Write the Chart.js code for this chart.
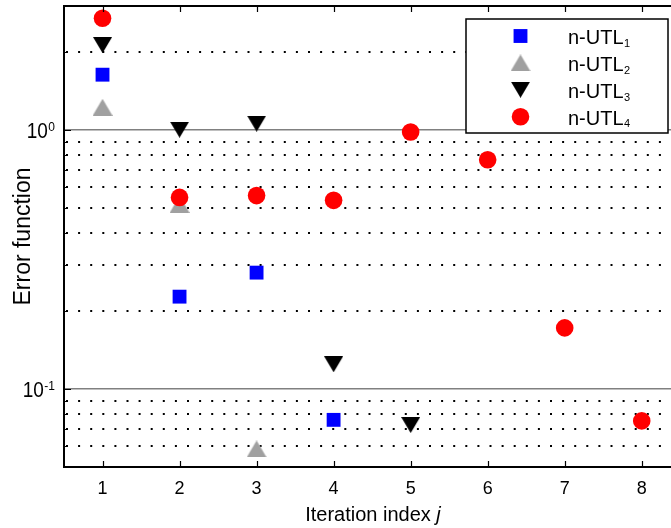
<!DOCTYPE html>
<html>
<head>
<meta charset="utf-8">
<script src="https://cdn.jsdelivr.net/npm/chart.js@4.4.0/dist/chart.umd.min.js"></script>
<style>
html, body { margin: 0; padding: 0; background: #fff; }
</style>
</head>
<body>
<canvas id="errorchart" width="671" height="528"></canvas>
<script>
// values
const iterations = [1, 2, 3, 4, 5, 6, 7, 8];
const xTicks = [1, 2, 3, 4, 5, 6, 7, 8];
const utl1 = [1.63, 0.227, 0.281, 0.076];
const utl2 = [1.22, 0.515, 0.0587];
const utl3 = [2.12, 1.0, 1.055, 0.1245, 0.0726];
const utl4 = [2.69, 0.548, 0.557, 0.534, 0.98, 0.766, 0.172, 0.0753];
const seriesNames = ['n-UTL', 'n-UTL', 'n-UTL', 'n-UTL'];
const seriesSubs = ['1', '2', '3', '4'];
const yGridTicks = [0.05, 0.06, 0.07, 0.08, 0.09, 0.1, 0.2, 0.3, 0.4, 0.5, 0.6, 0.7, 0.8, 0.9, 1, 2, 3];
const yMajor = [0.1, 1];
const yMajorExp = ['-1', '0'];

const FONT = '"Liberation Sans", Arial, Helvetica, sans-serif';
Chart.defaults.font.family = FONT;
Chart.defaults.color = '#000';

function makeTriangle(color, down, w, h) {
    const c = document.createElement('canvas');
    c.width = w;
    c.height = h;
    const g = c.getContext('2d');
    g.fillStyle = color;
    g.beginPath();
    if (down) {
        g.moveTo(0, 0); g.lineTo(w, 0); g.lineTo(w / 2, h);
    } else {
        g.moveTo(w / 2, 0); g.lineTo(w, h); g.lineTo(0, h);
    }
    g.closePath();
    g.fill();
    return c;
}
const triUp = makeTriangle('#a0a0a0', false, 20, 17);
const triDown = makeTriangle('#000000', true, 19, 16);

function points(vals) {
    return vals.map((v, i) => ({ x: iterations[i], y: v }));
}

const isMajor = (v) => yMajor.some((m) => Math.abs(m - v) < 1e-9);

const datasets = [
    { label: seriesNames[0] + seriesSubs[0], data: points(utl1), pointStyle: 'rect', pointRadius: 9.8, backgroundColor: '#0000ff', order: 4 },
    { label: seriesNames[1] + seriesSubs[1], data: points(utl2), pointStyle: triUp, pointRadius: 9, backgroundColor: '#a0a0a0', order: 3 },
    { label: seriesNames[2] + seriesSubs[2], data: points(utl3), pointStyle: triDown, pointRadius: 9, backgroundColor: '#000000', order: 2 },
    { label: seriesNames[3] + seriesSubs[3], data: points(utl4), pointStyle: 'circle', pointRadius: 8.8, backgroundColor: '#ff0000', order: 1 }
];
datasets.forEach((d) => { d.borderWidth = 0; d.pointBorderWidth = 0; d.pointHoverRadius = d.pointRadius; });

// axes decorations, superscript labels, italic title and legend
const decorPlugin = {
    id: 'decor',
    afterDatasetsDraw(chart) {
        const { ctx, chartArea: a, scales: { x, y } } = chart;
        ctx.save();
        ctx.strokeStyle = '#000';
        ctx.lineWidth = 2;
        ctx.beginPath();
        ctx.moveTo(a.left - 1, a.top);
        ctx.lineTo(a.right, a.top);
        ctx.stroke();

        ctx.lineWidth = 1.2;
        ctx.beginPath();
        xTicks.forEach((v) => {
            const px = Math.round(x.getPixelForValue(v)) + 0.5;
            ctx.moveTo(px, a.bottom);
            ctx.lineTo(px, a.bottom - 6);
            ctx.moveTo(px, a.top);
            ctx.lineTo(px, a.top + 6);
        });
        yGridTicks.forEach((v) => {
            const py = Math.round(y.getPixelForValue(v)) + 0.5;
            const len = isMajor(v) ? 7 : 4;
            ctx.moveTo(a.left, py);
            ctx.lineTo(a.left + len, py);
        });
        ctx.stroke();

        // y tick labels 10^n
        ctx.fillStyle = '#000';
        ctx.textBaseline = 'alphabetic';
        ctx.textAlign = 'left';
        yMajor.forEach((v, i) => {
            const py = y.getPixelForValue(v);
            ctx.font = '12px ' + FONT;
            const ws = ctx.measureText(yMajorExp[i]).width;
            const xr = 55;
            ctx.save();
            ctx.translate(xr - ws - 0.5, py + 8);
            ctx.scale(1, 1.12);
            ctx.font = '19px ' + FONT;
            ctx.textAlign = 'right';
            ctx.fillText('10', 0, 0);
            ctx.restore();
            ctx.font = '12px ' + FONT;
            ctx.fillText(yMajorExp[i], xr - ws, py + 1);
        });

        // x title with italic j
        const t1 = 'Iteration index ';
        const t2 = 'j';
        ctx.font = '20px ' + FONT;
        const w1 = ctx.measureText(t1).width;
        ctx.font = 'italic 20px ' + FONT;
        const w2 = ctx.measureText(t2).width;
        const x0 = 373 - (w1 + w2) / 2;
        ctx.font = '20px ' + FONT;
        ctx.fillText(t1, x0, 521);
        ctx.font = 'italic 20px ' + FONT;
        ctx.fillText(t2, x0 + w1, 521);

        // legend
        ctx.fillStyle = '#fff';
        ctx.fillRect(466, 19, 202, 114);
        ctx.lineWidth = 1.5;
        ctx.strokeStyle = '#000';
        ctx.strokeRect(466, 19, 202, 114);
        chart.data.datasets.forEach((d, i) => {
            const cy = 36 + i * 26.9;
            const cx = 520.5;
            ctx.fillStyle = d.backgroundColor;
            if (d.pointStyle === 'rect') {
                const s = d.pointRadius * Math.SQRT2;
                ctx.fillRect(cx - s / 2, cy - s / 2, s, s);
            } else if (d.pointStyle === 'circle') {
                ctx.beginPath();
                ctx.arc(cx, cy, d.pointRadius, 0, Math.PI * 2);
                ctx.fill();
            } else {
                const im = d.pointStyle;
                ctx.drawImage(im, cx - im.width / 2, cy - im.height / 2);
            }
            ctx.fillStyle = '#000';
            ctx.font = '20px ' + FONT;
            ctx.fillText(seriesNames[i], 568, cy + 8.3);
            const wn = ctx.measureText(seriesNames[i]).width;
            ctx.font = '11px ' + FONT;
            ctx.fillText(seriesSubs[i], 568 + wn + 0.5, cy + 10.7);
        });
        ctx.restore();
    }
};

new Chart(document.getElementById('errorchart').getContext('2d'), {
    type: 'scatter',
    data: { datasets: datasets },
    options: {
        responsive: false,
        animation: false,
        events: [],
        layout: { autoPadding: false, padding: { top: 6, right: 0, bottom: 0, left: 0 } },
        plugins: {
            legend: { display: false },
            tooltip: { enabled: false }
        },
        scales: {
            x: {
                type: 'linear',
                min: 0.5,
                max: 8.38,
                afterBuildTicks: (scale) => { scale.ticks = xTicks.map((v) => ({ value: v })); },
                afterFit: (scale) => { scale.height = 61; },
                ticks: { font: { size: 18 }, padding: 11, color: '#000', maxRotation: 0 },
                grid: { display: false, drawTicks: false },
                border: { display: true, color: '#000', width: 2 }
            },
            y: {
                type: 'logarithmic',
                min: 0.05,
                max: 3,
                afterBuildTicks: (scale) => { scale.ticks = yGridTicks.map((v) => ({ value: v })); },
                afterFit: (scale) => { scale.width = 64; },
                ticks: { display: false },
                title: { display: true, text: 'Error function', font: { size: 23 }, color: '#000', padding: { top: 10, bottom: 0 } },
                grid: {
                    drawTicks: false,
                    color: (c) => (c.tick && isMajor(c.tick.value)) ? '#808080' : '#000',
                    lineWidth: (c) => (c.tick && isMajor(c.tick.value)) ? 1.5 : 2
                },
                border: {
                    display: true,
                    color: '#000',
                    width: 2,
                    dash: (c) => (!c.tick || isMajor(c.tick.value)) ? [] : [2, 10.1],
                    dashOffset: -1
                }
            }
        }
    },
    plugins: [decorPlugin]
});
</script>
</body>
</html>
